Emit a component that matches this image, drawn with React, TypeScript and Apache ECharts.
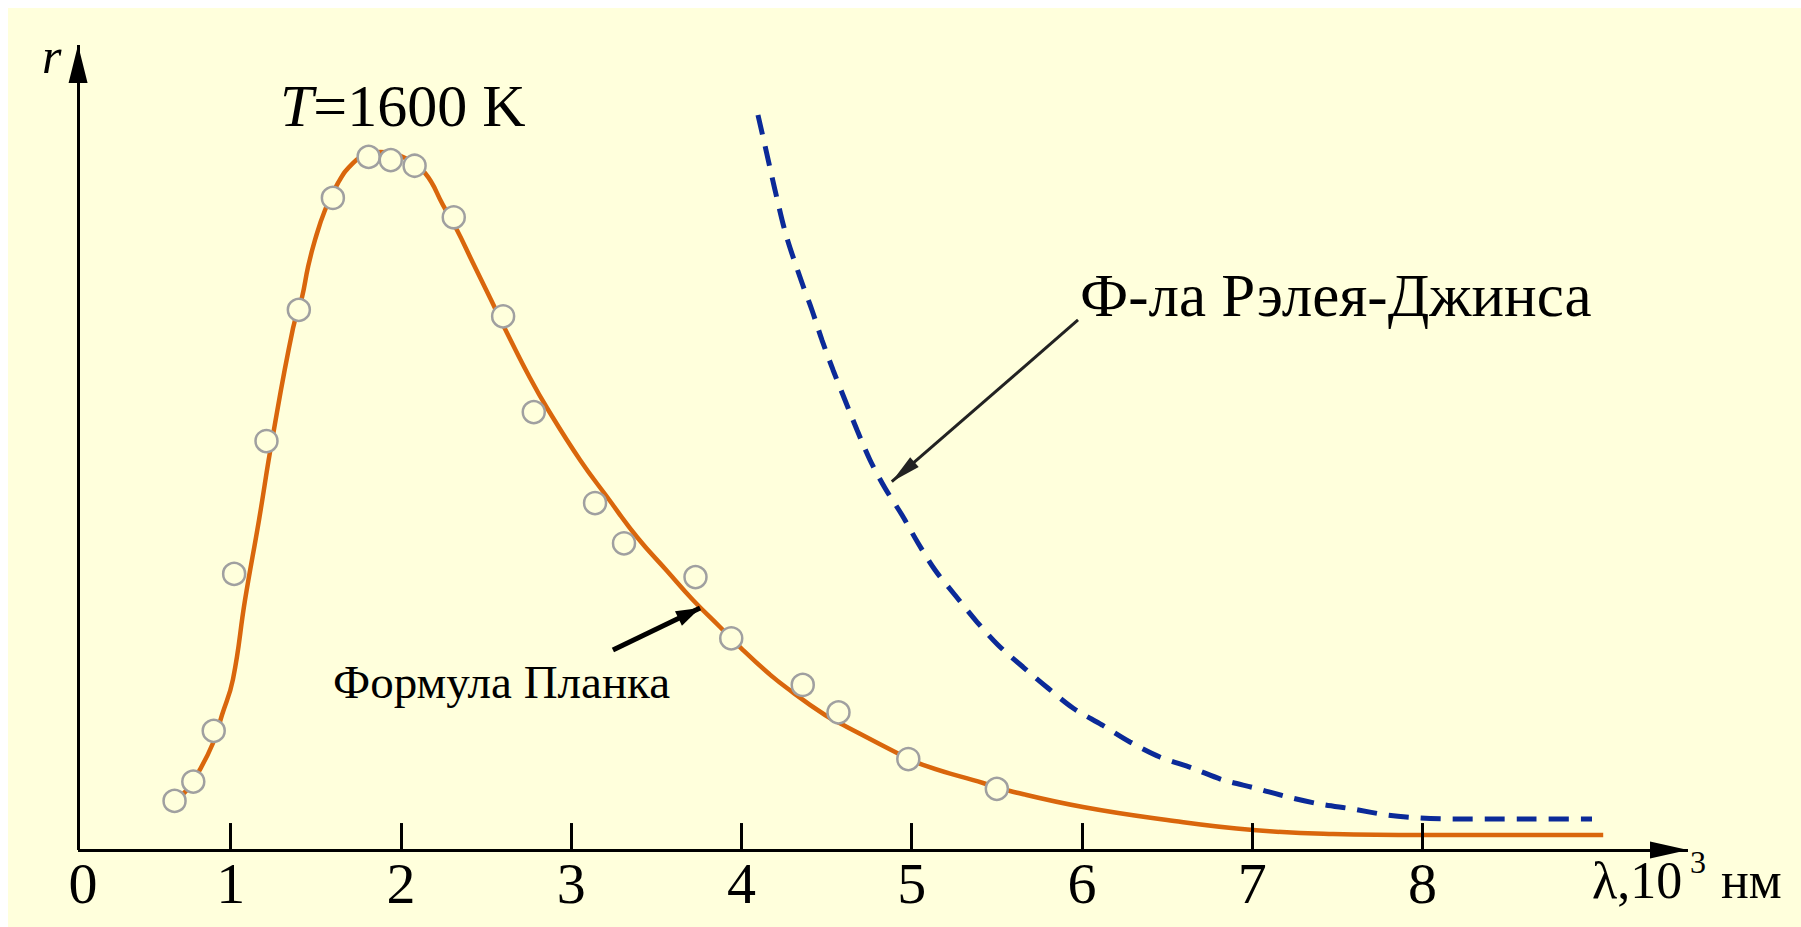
import React, { useEffect, useRef } from 'react';
import * as echarts from 'echarts';

// Planck formula curve (λ in 10^3 nm, r in arbitrary units)
const PLANCK_X = [0.678, 0.737, 0.814, 0.896, 0.949, 1.013, 1.084, 1.166, 1.242, 1.366, 1.419, 1.454, 1.495, 1.554, 1.63, 1.718, 1.806, 1.877, 2.012, 2.141, 2.247, 2.329, 2.423, 2.535, 2.623, 2.758, 2.858, 3.052, 3.211, 3.386, 3.563, 3.715, 3.874, 4.009, 4.15, 4.267, 4.491, 4.62, 4.914, 5.066, 5.419, 5.578, 6.006, 6.5, 7.005, 7.475, 8.004, 8.533, 9.062];
const PLANCK_Y = [6.21, 7.33, 9.81, 13.29, 16.8, 21.2, 31.06, 40.99, 50.81, 64.84, 68.7, 72.42, 75.78, 79.5, 82.86, 85.34, 86.46, 86.71, 86.09, 84.1, 80.12, 77.02, 72.92, 68.07, 64.22, 58.63, 54.91, 48.45, 43.85, 38.88, 34.66, 31.06, 27.7, 24.84, 22.11, 20.12, 16.77, 15.28, 12.05, 10.56, 8.32, 7.33, 5.34, 3.73, 2.48, 1.99, 1.86, 1.86, 1.86];

// Rayleigh–Jeans curve
const RJ_X = [4.097, 4.144, 4.197, 4.262, 4.356, 4.414, 4.473, 4.538, 4.608, 4.679, 4.755, 4.843, 4.943, 5.037, 5.137, 5.254, 5.384, 5.507, 5.654, 5.8, 5.947, 6.118, 6.282, 6.458, 6.646, 6.829, 7.017, 7.21, 7.398, 7.592, 7.792, 7.986, 8.18, 8.379, 8.573, 8.996];
const RJ_Y = [91.3, 86.96, 81.99, 76.4, 70.43, 67.08, 63.35, 59.63, 55.9, 52.17, 48.45, 44.97, 41.61, 38.14, 34.78, 31.68, 28.32, 25.47, 22.73, 20.12, 17.64, 15.53, 13.42, 11.55, 10.19, 8.7, 7.7, 6.58, 5.71, 5.09, 4.35, 3.98, 3.85, 3.85, 3.85, 3.85];

// Experimental points
const EXP_X = [0.67, 0.78, 0.9, 1.02, 1.21, 1.4, 1.6, 1.81, 1.94, 2.08, 2.31, 2.6, 2.78, 3.14, 3.31, 3.73, 3.94, 4.36, 4.57, 4.98, 5.5];
const EXP_Y = [6.1, 8.5, 14.8, 34.3, 50.8, 67.1, 81.0, 86.1, 85.7, 85.0, 78.6, 66.3, 54.4, 43.1, 38.1, 33.9, 26.3, 20.5, 17.1, 11.3, 7.6];

// Axis ticks
const X_TICKS = [1, 2, 3, 4, 5, 6, 7, 8];
const X_TICK_LABELS = ['1', '2', '3', '4', '5', '6', '7', '8'];
const ORIGIN_LABEL = '0';

// Axis geometry in data units
const AXIS_ORIGIN_X = 0.103;
const X_AXIS_END = 9.56;
const Y_AXIS_END = 100;
const TICK_LEN = 3.35;

// Annotation pointers [start, tip]
const RJ_POINTER = [[5.977, 65.84], [4.883, 45.75]];
const PLANCK_POINTER = [[3.245, 24.84], [3.757, 30.06]];

const BG = '#FFFFDC';
const SERIF = '"Liberation Serif", "Times New Roman", serif';

function txt(text: string, x: number, y: number, size: number, extra: any = {}) {
  return {
    type: 'text',
    x,
    y,
    silent: true,
    style: {
      text,
      fontFamily: SERIF,
      fontSize: size,
      fontStyle: extra.fontStyle || 'normal',
      font: `${extra.fontStyle || 'normal'} normal ${size}px ${SERIF}`,
      fill: '#000',
      align: extra.align || 'left',
      verticalAlign: 'middle',
      ...(extra.rich ? { rich: extra.rich } : {}),
    },
  };
}

export default function App() {
  const ref = useRef<HTMLDivElement>(null);

  useEffect(() => {
    if (!ref.current) return;
    const chart = echarts.init(ref.current, null, { renderer: 'svg' });

    const axisStyle = { color: '#000', width: 3, type: 'solid' };

    const option: any = {
      animation: false,
      backgroundColor: BG,
      grid: { left: 52.5, right: 106.2, top: 37, bottom: 77, containLabel: false },
      xAxis: {
        type: 'value',
        min: 0,
        max: 9.6,
        interval: 1,
        axisLine: { show: false },
        axisTick: { show: false },
        splitLine: { show: false },
        axisLabel: {
          show: true,
          margin: 4,
          color: '#000',
          fontFamily: SERIF,
          fontSize: 58,
          lineHeight: 58,
          formatter: (v: number) => {
            const i = X_TICKS.indexOf(Math.round(v * 1000) / 1000);
            return i >= 0 ? X_TICK_LABELS[i] : '';
          },
        },
      },
      yAxis: { type: 'value', min: 0, max: 100, show: false },
      series: [
        {
          type: 'line',
          name: 'Формула Планка',
          data: PLANCK_X.map((x, i) => [x, PLANCK_Y[i]]),
          smooth: 0.45,
          symbol: 'none',
          showSymbol: false,
          lineStyle: { color: '#D9660C', width: 4.5 },
          z: 2,
          silent: true,
        },
        {
          type: 'line',
          name: 'Ф-ла Рэлея-Джинса',
          data: RJ_X.map((x, i) => [x, RJ_Y[i]]),
          smooth: 0.3,
          symbol: 'none',
          showSymbol: false,
          lineStyle: { color: '#0B2A98', width: 5, type: [20, 12] },
          z: 2,
          silent: true,
        },
        {
          type: 'scatter',
          name: 'Эксперимент',
          data: EXP_X.map((x, i) => [x, EXP_Y[i]]),
          symbol: 'circle',
          symbolSize: 22,
          itemStyle: { color: BG, borderColor: '#A0A0A0', borderWidth: 2.5, opacity: 1 },
          z: 4,
          silent: true,
        },
        {
          type: 'line',
          name: 'axes',
          data: [[AXIS_ORIGIN_X, 0]],
          symbol: 'none',
          showSymbol: false,
          lineStyle: { opacity: 0 },
          clip: false,
          z: 3,
          silent: true,
          markLine: {
            silent: true,
            animation: false,
            symbol: ['none', 'none'],
            label: { show: false },
            precision: 4,
            data: [
              [
                { coord: [AXIS_ORIGIN_X, 0], lineStyle: axisStyle },
                { coord: [X_AXIS_END, 0], symbol: 'triangle', symbolSize: [17, 38], symbolOffset: [0, 19] },
              ],
              [
                { coord: [AXIS_ORIGIN_X, 0], lineStyle: axisStyle },
                { coord: [AXIS_ORIGIN_X, Y_AXIS_END], symbol: 'triangle', symbolSize: [19, 38], symbolOffset: [0, 19] },
              ],
              ...X_TICKS.map((t) => [
                { coord: [t, 0], lineStyle: axisStyle },
                { coord: [t, TICK_LEN] },
              ]),
              [
                { coord: RJ_POINTER[0], lineStyle: { color: '#222', width: 3, type: 'solid' } },
                { coord: RJ_POINTER[1], symbol: 'triangle', symbolSize: [13, 30], symbolOffset: [0, 15] },
              ],
              [
                { coord: PLANCK_POINTER[0], lineStyle: { color: '#000', width: 5, type: 'solid' } },
                { coord: PLANCK_POINTER[1], symbol: 'triangle', symbolSize: [16, 24], symbolOffset: [0, 12] },
              ],
            ],
          },
        },
      ],
      graphic: [
        txt('r', 34, 48.4, 50, { fontStyle: 'italic' }),
        txt('{it|T}=1600 K', 272, 97.75, 60, {
          rich: {
            it: {
              fontFamily: SERIF,
              fontStyle: 'italic',
              fontSize: 60,
              font: `italic normal 60px ${SERIF}`,
              fill: '#000',
            },
          },
        }),
        txt('Ф-ла Рэлея-Джинса', 1072, 287.4, 61),
        txt('Формула Планка', 325, 674.1, 47),
        txt(ORIGIN_LABEL, 75, 875, 58, { align: 'center' }),
        txt('λ,10', 1584, 872.45, 52),
        txt('3', 1682, 854.2, 32),
        txt('нм', 1713, 872.45, 52),
      ],
    };

    chart.setOption(option);
    return () => chart.dispose();
  }, []);

  return (
    <div
      ref={ref}
      style={{ position: 'fixed', left: 8, top: 8, width: 1793, height: 919 }}
    />
  );
}
